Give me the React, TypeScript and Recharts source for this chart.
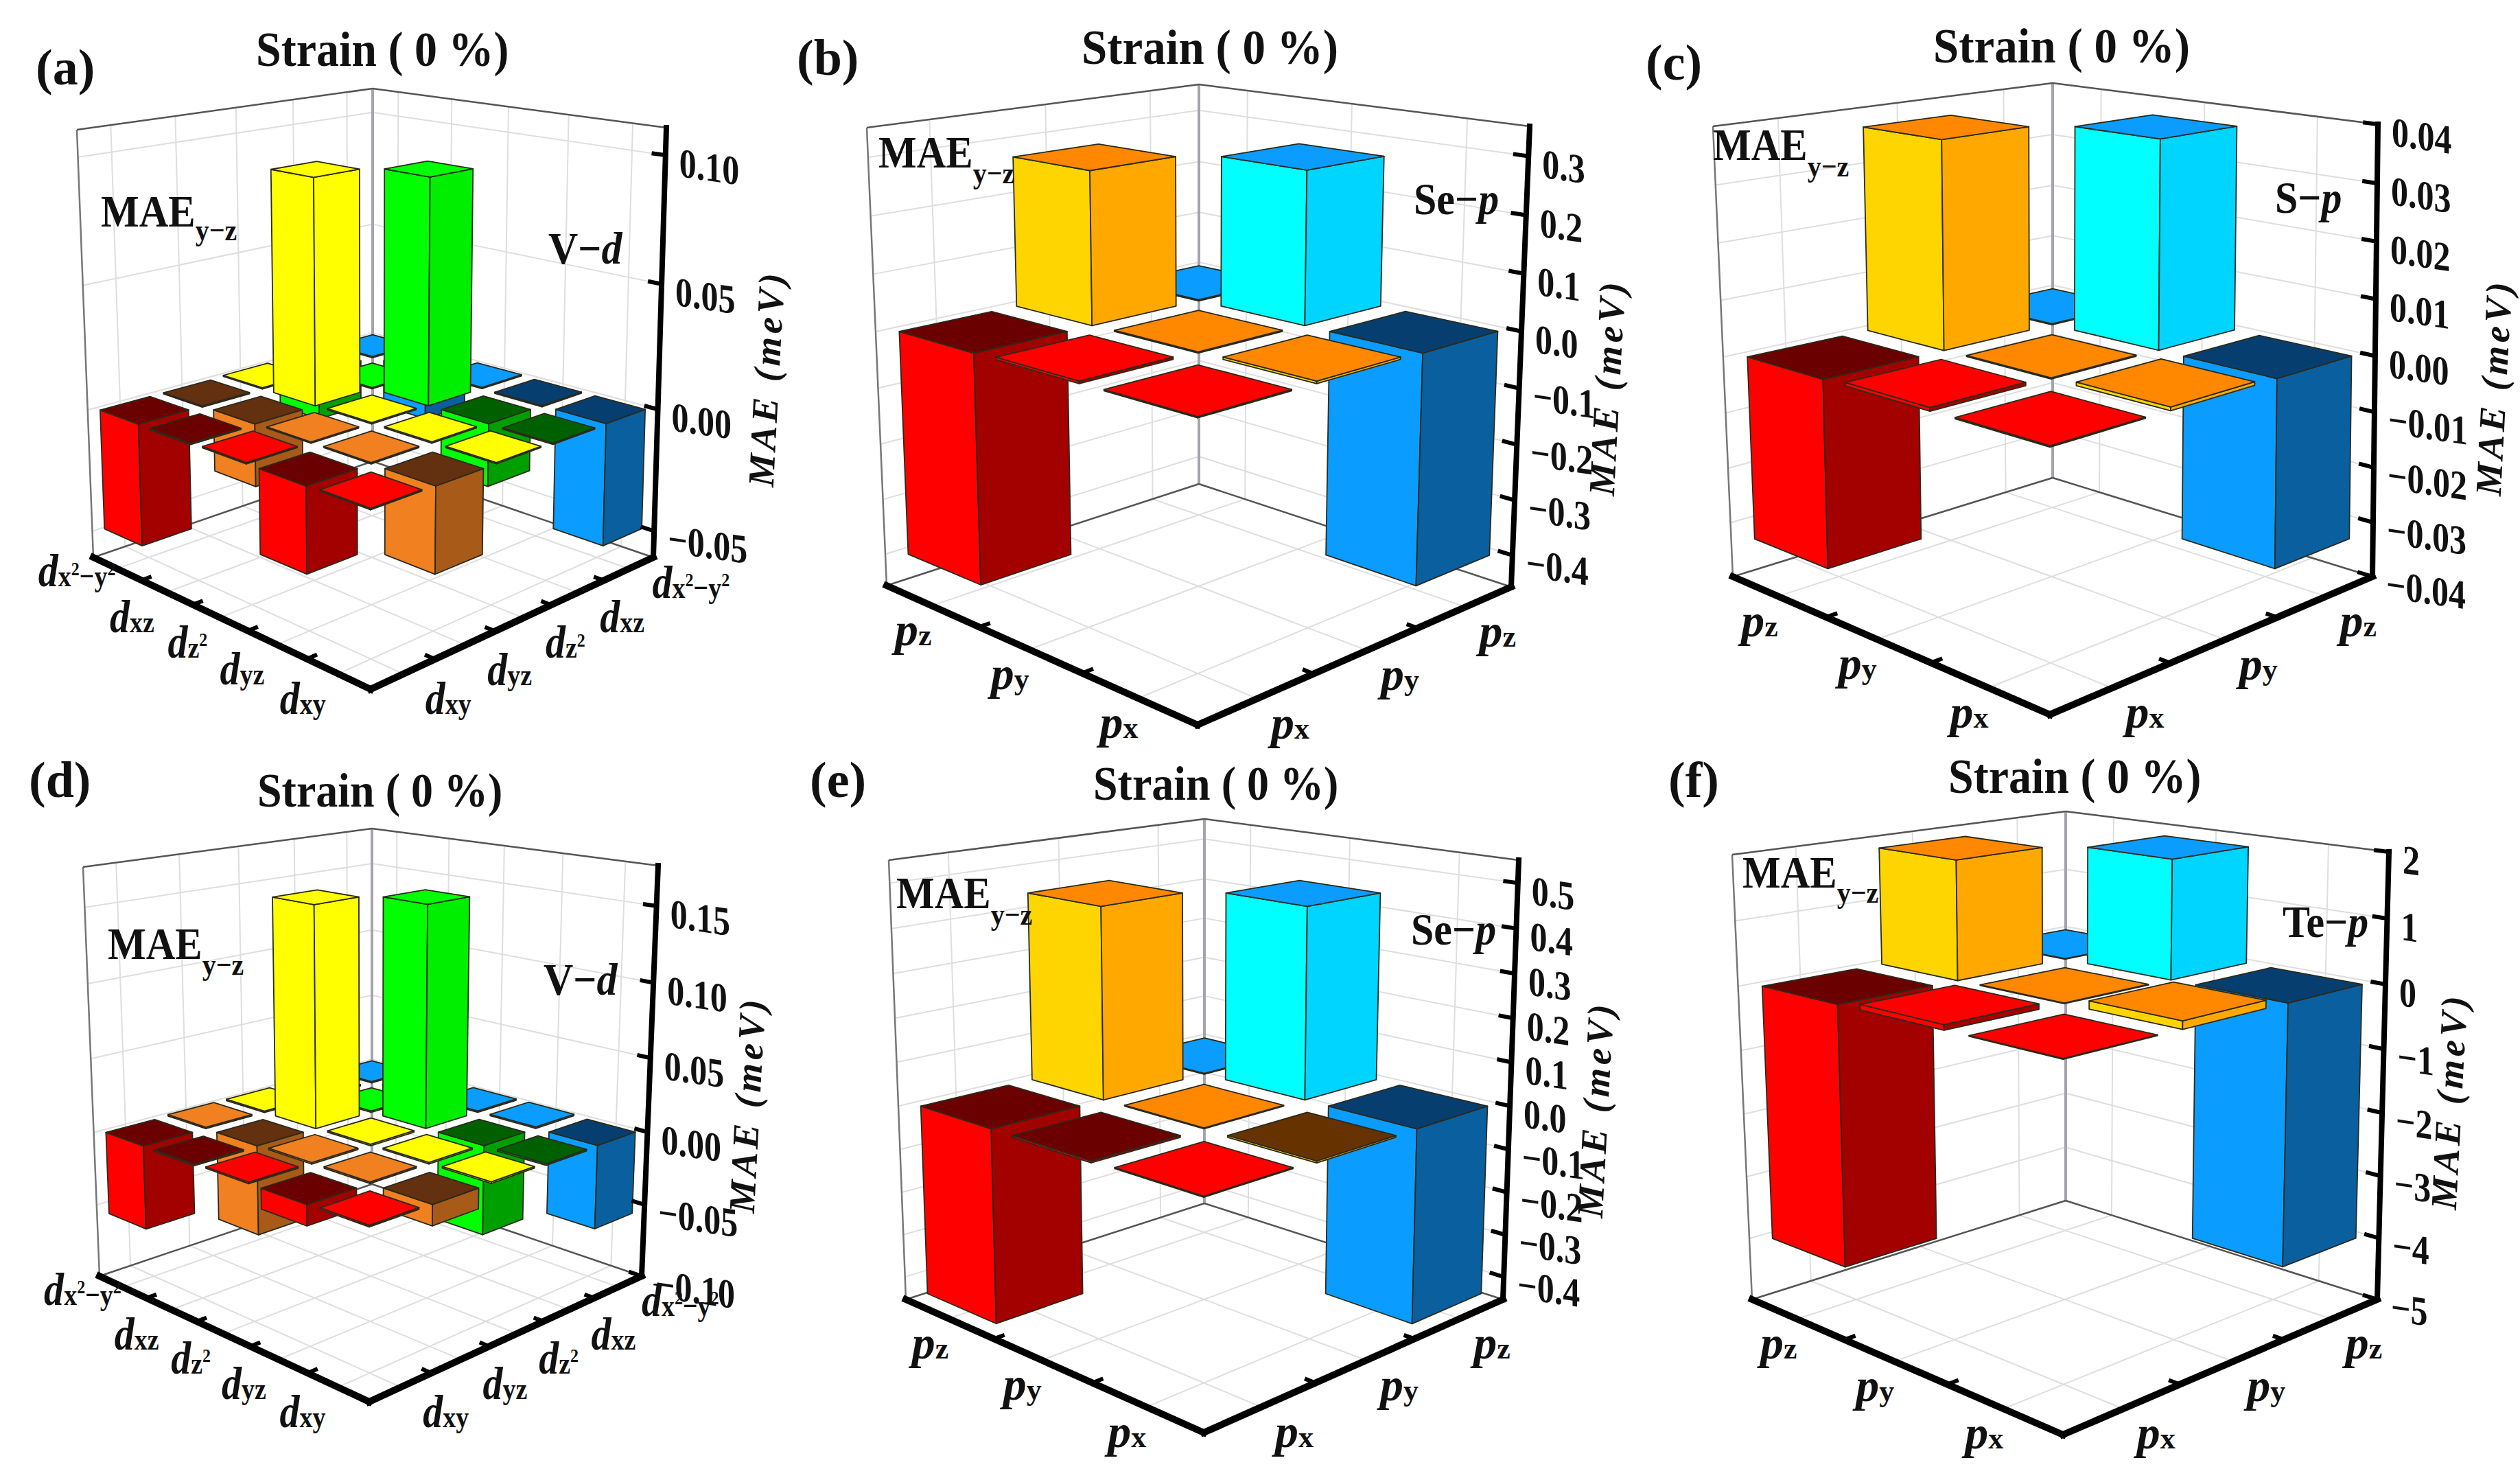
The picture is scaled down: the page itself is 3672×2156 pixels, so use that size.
import { ReactNode } from 'react';
import { ScatterChart, Scatter, XAxis, YAxis } from 'recharts';

// orbital names, "^2" marks a raised 2 inside the subscript
const dOrbitals = ['x^2−y^2', 'xz', 'z^2', 'yz', 'xy'];
const pOrbitals = ['z', 'y', 'x'];

// MAE per orbital pair, row = right axis side, column = left axis side
const aValues = [
  [0.0005, -0.02, 0.0005, -0.0005, -0.049],
  [-0.02, 0.0005, 0.091, -0.025, -0.0005],
  [0.0005, 0.091, 0.0005, 0.0005, 0.0005],
  [-0.0005, -0.025, 0.0005, 0.0005, -0.032],
  [-0.049, -0.0005, 0.0005, -0.032, 0.0005],
];
const dValues = [
  [0.001, 0.001, 0.001, 0.001, -0.056],
  [0.001, 0.001, 0.15, -0.06, -0.001],
  [0.001, 0.15, 0.001, 0.001, 0.001],
  [0.001, -0.06, 0.001, 0.001, -0.013],
  [-0.056, -0.001, 0.001, -0.013, 0.001],
];
const bValues = [
  [0.002, 0.27, -0.4],
  [0.27, 0.002, 0.004],
  [-0.4, 0.004, 0.002],
];
const cValues = [
  [0.0002, 0.037, -0.033],
  [0.037, 0.0002, 0.0006],
  [-0.033, 0.0006, 0.0002],
];
const eValues = [
  [0.002, 0.44, -0.44],
  [0.44, 0.002, -0.004],
  [-0.44, -0.004, 0.002],
];
const fValues = [
  [0.01, 1.85, -4.0],
  [1.85, 0.01, 0.08],
  [-4.0, 0.12, 0.01],
];

const aTicks = [0.1, 0.05, 0, -0.05];
const bTicks = [0.3, 0.2, 0.1, 0, -0.1, -0.2, -0.3, -0.4];
const cTicks = [0.04, 0.03, 0.02, 0.01, 0, -0.01, -0.02, -0.03, -0.04];
const dTicks = [0.15, 0.1, 0.05, 0, -0.05, -0.1];
const eTicks = [0.5, 0.4, 0.3, 0.2, 0.1, 0, -0.1, -0.2, -0.3, -0.4];
const fTicks = [2, 1, 0, -1, -2, -3, -4, -5];

// face colours: [left, right, top]
const RED = { pos: ['#ff0000', '#a30000', '#ff0000'], neg: ['#ff0000', '#a30000', '#6b0000'] };
const ORANGE = { pos: ['#f08020', '#a85a18', '#f08020'], neg: ['#f08020', '#a85a18', '#633010'] };
const YELLOW = { pos: ['#ffff00', '#ffff00', '#ffff00'], neg: ['#ffff00', '#ffff00', '#ffff00'] };
const GREEN = { pos: ['#00ff00', '#00ee00', '#00ff00'], neg: ['#00ff00', '#009f00', '#006000'] };
const BLUE = { pos: ['#0a9dff', '#0a7fd0', '#0a9dff'], neg: ['#0a9dff', '#0a5f9f', '#063f6f'] };
const GOLD = { pos: ['#ffd500', '#ffa900', '#ff8800'], neg: ['#ffd500', '#ffa900', '#663300'] };
const CYAN = { pos: ['#00ffff', '#00d5ff', '#0a9dff'], neg: ['#0a9dff', '#0a5f9f', '#063f6f'] };

const D_FAMILIES = [BLUE, GREEN, YELLOW, ORANGE, RED];
const P_FAMILIES = [CYAN, GOLD, RED];

const FONT = 'Liberation Serif';
const BAR_FILL = 0.78;
const Z_PERSPECTIVE = 1.05;
const GRID = '#dedede';

type Pt = { x: number; y: number };

const pt = (x: number, y: number): Pt => ({ x, y });

const panels = [
  {
    frame: [0, 0, 1190, 1120], letter: '(a)', letterAt: pt(52, 123), titleAt: pt(373, 96), titleSize: 66, maeAt: pt(147, 330), subDrop: 18,
    site: ['V−', 'd'], siteAt: pt(799, 384), yTitleAt: pt(1118, 552),
    box: { backTop: pt(543, 129), leftTop: pt(112, 189), rightTop: pt(971, 186), back: pt(543, 672), left: pt(136, 812), front: pt(540, 1004), right: pt(952, 812) },
    zRange: [-0.061, 0.1105], ticks: aTicks, decimals: 2, values: aValues, families: D_FAMILIES, base: 'd', orbitals: dOrbitals,
  },
  {
    frame: [1130, 0, 2400, 1120], letter: '(b)', letterAt: pt(1161, 109), titleAt: pt(1576, 93), titleSize: 67, maeAt: pt(1280, 244), subDrop: 21,
    site: ['Se−', 'p'], siteAt: pt(2060, 312), yTitleAt: pt(2343, 565),
    box: { backTop: pt(1747, 123), leftTop: pt(1263, 186), rightTop: pt(2229, 184), back: pt(1747, 705), left: pt(1292, 853), front: pt(1745, 1056), right: pt(2202, 855) },
    zRange: [-0.458, 0.35], ticks: bTicks, decimals: 1, values: bValues, families: P_FAMILIES, base: 'p', orbitals: pOrbitals,
  },
  {
    frame: [2370, 0, 3672, 1120], letter: '(c)', letterAt: pt(2398, 116), titleAt: pt(2817, 91), titleSize: 67, maeAt: pt(2496, 233), subDrop: 22,
    site: ['S−', 'p'], siteAt: pt(3315, 310), yTitleAt: pt(3635, 565),
    box: { backTop: pt(2991, 121), leftTop: pt(2496, 184), rightTop: pt(3465, 181), back: pt(2991, 696), left: pt(2525, 840), front: pt(2987, 1041), right: pt(3457, 840) },
    zRange: [-0.04, 0.04], ticks: cTicks, decimals: 2, values: cValues, families: P_FAMILIES, base: 'p', orbitals: pOrbitals,
  },
  {
    frame: [0, 1085, 1190, 2156], letter: '(d)', letterAt: pt(42, 1161), titleAt: pt(375, 1175), titleSize: 64, maeAt: pt(157, 1397), subDrop: 21,
    site: ['V−', 'd'], siteAt: pt(792, 1449), yTitleAt: pt(1090, 1610),
    box: { backTop: pt(542, 1207), leftTop: pt(121, 1263), rightTop: pt(959, 1261), back: pt(542, 1725), left: pt(145, 1859), front: pt(538, 2042), right: pt(935, 1859) },
    zRange: [-0.1, 0.176], ticks: dTicks, decimals: 2, values: dValues, families: D_FAMILIES, base: 'd', orbitals: dOrbitals,
  },
  {
    frame: [1130, 1085, 2400, 2156], letter: '(e)', letterAt: pt(1180, 1161), titleAt: pt(1593, 1165), titleSize: 64, maeAt: pt(1306, 1323), subDrop: 22,
    site: ['Se−', 'p'], siteAt: pt(2056, 1376), yTitleAt: pt(2326, 1617),
    box: { backTop: pt(1755, 1193), leftTop: pt(1295, 1253), rightTop: pt(2213, 1253), back: pt(1755, 1753), left: pt(1320, 1893), front: pt(1754, 2087), right: pt(2190, 1893) },
    zRange: [-0.454, 0.55], ticks: eTicks, decimals: 1, values: eValues, families: P_FAMILIES, base: 'p', orbitals: pOrbitals,
  },
  {
    frame: [2370, 1085, 3672, 2156], letter: '(f)', letterAt: pt(2431, 1161), titleAt: pt(2839, 1155), titleSize: 66, maeAt: pt(2539, 1293), subDrop: 20,
    site: ['Te−', 'p'], siteAt: pt(3326, 1365), yTitleAt: pt(3570, 1605),
    box: { backTop: pt(3010, 1182), leftTop: pt(2524, 1245), rightTop: pt(3481, 1241), back: pt(3010, 1749), left: pt(2553, 1893), front: pt(3006, 2090), right: pt(3464, 1893) },
    zRange: [-5, 2], ticks: fTicks, decimals: 0, values: fValues, families: P_FAMILIES, base: 'p', orbitals: pOrbitals,
  },
];

// square to quad: (0,0)=p0 (1,0)=p1 (1,1)=p2 (0,1)=p3
const homography = (p0: Pt, p1: Pt, p2: Pt, p3: Pt) => {
  const dx1 = p1.x - p2.x;
  const dx2 = p3.x - p2.x;
  const dx3 = p0.x - p1.x + p2.x - p3.x;
  const dy1 = p1.y - p2.y;
  const dy2 = p3.y - p2.y;
  const dy3 = p0.y - p1.y + p2.y - p3.y;
  const den = dx1 * dy2 - dx2 * dy1;
  const g = (dx3 * dy2 - dx2 * dy3) / den;
  const h = (dx1 * dy3 - dx3 * dy1) / den;
  return (u: number, v: number): Pt => {
    const w = g * u + h * v + 1;
    return {
      x: ((p1.x - p0.x + g * p1.x) * u + (p3.x - p0.x + h * p3.x) * v + p0.x) / w,
      y: ((p1.y - p0.y + g * p1.y) * u + (p3.y - p0.y + h * p3.y) * v + p0.y) / w,
    };
  };
};

const formatTick = (v: number, decimals: number) => v.toFixed(decimals).replace('-', '−');

const orbitalLabel = (base: string, sub: string, anchor: string) => {
  const isD = base === 'd';
  return (
    <text
      transform={isD ? 'scale(1,1.18)' : undefined}
      textAnchor={anchor}
      fontFamily={FONT}
      fontWeight="bold"
      fontStyle="italic"
      fontSize={isD ? 58 : 68}
      fill="#111"
    >
      {base}
      <tspan fontSize={isD ? 38 : 44} dy={isD ? 14 : 18} fontStyle="normal">
        {sub.split(/(\^2)/).filter(Boolean).map((part, i) =>
          part === '^2' ? (
            <tspan key={i} fontSize={24} dy={-14}>2</tspan>
          ) : (
            <tspan key={i} dy={i > 0 ? 14 : 0}>{part}</tspan>
          ),
        )}
      </tspan>
    </text>
  );
};

const noMark = () => <g />;
const drawContent = (props: any) => (
  <g transform={`translate(${props.cx},${props.cy})`}>{props.payload.content}</g>
);

const Panel = ({ cfg }: { cfg: (typeof panels)[number] }) => {
  const { box, zRange, ticks, values, families, orbitals, base, decimals, frame } = cfg;
  const [x0, y0, x1, y1] = frame;
  const n = orbitals.length;

  const midY = (box.leftTop.y + box.rightTop.y) / 2;
  const topFront = pt(box.front.x, midY + (midY - box.backTop.y) / 0.72);
  const floorAt = homography(box.back, box.right, box.front, box.left);
  const topAt = homography(box.backTop, box.rightTop, topFront, box.leftTop);

  const project = (a: number, b: number, z: number) => {
    const s = (z - zRange[0]) / (zRange[1] - zRange[0]);
    const t = s / (s + (1 - s) * Z_PERSPECTIVE);
    const f = floorAt(a, b);
    const u = topAt(a, b);
    return { sx: f.x + t * (u.x - f.x), sy: f.y + t * (u.y - f.y) };
  };

  const [zLo, zHi] = zRange;
  const lines: { key: string; data: any[]; stroke: string; width: number; cap?: string }[] = [];
  const addLine = (key: string, data: any[], stroke: string, width: number, cap = 'butt') =>
    lines.push({ key, data, stroke, width, cap });

  // wall and floor grid, centred on the categories
  for (let i = 0; i < n; i++) {
    const c = (i + 0.5) / n;
    addLine(`wl${i}`, [project(0, c, zLo), project(0, c, zHi)], GRID, 2);
    addLine(`wr${i}`, [project(c, 0, zLo), project(c, 0, zHi)], GRID, 2);
    addLine(`fa${i}`, [project(c, 0, zLo), project(c, 1, zLo)], GRID, 2);
    addLine(`fb${i}`, [project(0, c, zLo), project(1, c, zLo)], GRID, 2);
  }
  ticks.forEach((v, i) => {
    addLine(`hl${i}`, [project(0, 0, v), project(0, 1, v)], GRID, 2);
    addLine(`hr${i}`, [project(0, 0, v), project(1, 0, v)], GRID, 2);
  });
  // box edges
  addLine('backEdge', [project(0, 0, zLo), project(0, 0, zHi)], '#a4a4ac', 4);
  addLine('leftEdge', [project(0, 1, zLo), project(0, 1, zHi)], '#777', 2.5);
  addLine('topLeft', [project(0, 1, zHi), project(0, 0, zHi)], '#555', 2.5);
  addLine('topRight', [project(0, 0, zHi), project(1, 0, zHi)], '#555', 2.5);
  addLine('floorLeft', [project(0, 1, zLo), project(0, 0, zLo)], '#555', 2.5);
  addLine('floorRight', [project(0, 0, zLo), project(1, 0, zLo)], '#555', 2.5);

  // bars back to front
  const half = BAR_FILL / n / 2;
  const cells: { i: number; j: number }[] = [];
  for (let i = 0; i < n; i++) for (let j = 0; j < n; j++) cells.push({ i, j });
  cells.sort((p, q) => p.i + p.j - (q.i + q.j));

  const faces: { key: string; data: any[]; fill: string }[] = [];
  cells.forEach(({ i, j }) => {
    const v = values[i][j];
    const colors = v >= 0 ? families[j].pos : families[j].neg;
    const a0 = (i + 0.5) / n - half;
    const a1 = (i + 0.5) / n + half;
    const b0 = (j + 0.5) / n - half;
    const b1 = (j + 0.5) / n + half;
    const hi = Math.max(0, v);
    const lo = Math.min(0, v);
    faces.push({
      key: `l${i}-${j}`,
      fill: colors[0],
      data: [project(a0, b1, hi), project(a1, b1, hi), project(a1, b1, lo), project(a0, b1, lo)],
    });
    faces.push({
      key: `r${i}-${j}`,
      fill: colors[1],
      data: [project(a1, b1, hi), project(a1, b0, hi), project(a1, b0, lo), project(a1, b1, lo)],
    });
    faces.push({
      key: `t${i}-${j}`,
      fill: colors[2],
      data: [project(a0, b0, hi), project(a1, b0, hi), project(a1, b1, hi), project(a0, b1, hi)],
    });
  });

  // heavy axes and their ticks
  const axes: typeof lines = [];
  const addAxis = (key: string, data: any[], width: number) =>
    axes.push({ key, data, stroke: '#000', width, cap: 'square' });
  addAxis('axisLeft', [project(0, 1, zLo), project(1, 1, zLo)], 10);
  addAxis('axisRight', [project(1, 0, zLo), project(1, 1, zLo)], 10);
  addAxis('axisZ', [project(1, 0, zLo), project(1, 0, zHi)], 8);
  for (let k = 1; k < n; k++) {
    addAxis(`nl${k}`, [project(k / n, 1, zLo), project(k / n, 0.975, zLo)], 6);
    addAxis(`nr${k}`, [project(1, k / n, zLo), project(0.975, k / n, zLo)], 6);
  }
  ticks.forEach((v, i) => {
    addAxis(`tz${i}`, [project(1, 0, v), project(0.965, 0, v)], 6);
  });

  // all text goes through the same scales as the marks
  const notes: any[] = [];
  const note = (sx: number, sy: number, content: ReactNode) => notes.push({ sx, sy, content });

  ticks.forEach((v) => {
    const p = project(1, 0, v);
    note(p.sx + 20, p.sy + 31, (
      <text transform="skewY(8) scale(1,1.2)" fontFamily={FONT} fontWeight="bold" fontSize={50} fill="#111">
        {formatTick(v, decimals)}
      </text>
    ));
  });

  orbitals.forEach((name, k) => {
    const c = (k + 0.5) / n;
    const long = name.length > 4;
    const left = project(c, 1, zLo);
    const right = project(1, c, zLo);
    note(left.sx + (long ? -2 : base === 'd' ? -18 : 0), left.sy + (long ? 26 : 58), orbitalLabel(base, name, 'end'));
    note(right.sx + (long ? 34 : base === 'd' ? 32 : 20), right.sy + (long ? 42 : 58), orbitalLabel(base, name, 'start'));
  });

  note(cfg.letterAt.x, cfg.letterAt.y, (
    <text fontFamily={FONT} fontWeight="bold" fontSize={74} fill="#111">{cfg.letter}</text>
  ));
  note(cfg.titleAt.x, cfg.titleAt.y, (
    <text transform="scale(1,1.08)" fontFamily={FONT} fontWeight="bold" fontSize={cfg.titleSize} fill="#111">Strain ( 0 %)</text>
  ));
  note(cfg.maeAt.x, cfg.maeAt.y, (
    <text transform="scale(1,1.1)" fontFamily={FONT} fontWeight="bold" fontSize={59} fill="#111">
      MAE<tspan fontSize={40} dy={cfg.subDrop}>y−z</tspan>
    </text>
  ));
  note(cfg.siteAt.x, cfg.siteAt.y, (
    <text transform="scale(1,1.1)" fontFamily={FONT} fontWeight="bold" fontSize={60} fill="#111">
      {cfg.site[0]}<tspan fontStyle="italic">{cfg.site[1]}</tspan>
    </text>
  ));
  note(cfg.yTitleAt.x + 17, cfg.yTitleAt.y, (
    <text transform="rotate(-87)" textAnchor="middle" fontFamily={FONT} fontWeight="bold" fontStyle="italic" fontSize={54} letterSpacing={5} fill="#111">
      MAE (meV)
    </text>
  ));

  return (
    <div style={{ position: 'absolute', left: x0, top: y0 }}>
      <ScatterChart width={x1 - x0} height={y1 - y0} margin={{ top: 0, right: 0, bottom: 0, left: 0 }}>
        <XAxis type="number" dataKey="sx" domain={[x0, x1]} hide />
        <YAxis type="number" dataKey="sy" domain={[y0, y1]} reversed hide />
        {lines.map((l) => (
          <Scatter
            key={l.key}
            data={l.data}
            line={{ stroke: l.stroke, strokeWidth: l.width, strokeLinecap: l.cap }}
            shape={noMark}
            isAnimationActive={false}
          />
        ))}
        {faces.map((f) => (
          <Scatter
            key={f.key}
            data={f.data}
            line={{ fill: f.fill, stroke: '#2a2a1c', strokeWidth: 1.8, strokeLinejoin: 'round' }}
            lineJointType="linearClosed"
            shape={noMark}
            isAnimationActive={false}
          />
        ))}
        {axes.map((l) => (
          <Scatter
            key={l.key}
            data={l.data}
            line={{ stroke: l.stroke, strokeWidth: l.width, strokeLinecap: l.cap }}
            shape={noMark}
            isAnimationActive={false}
          />
        ))}
        <Scatter data={notes} shape={drawContent} isAnimationActive={false} />
      </ScatterChart>
    </div>
  );
};

export default function App() {
  return (
    <div style={{ position: 'absolute', left: 0, top: 0, width: 3672, height: 2156, background: '#fff', overflow: 'hidden' }}>
      {panels.map((cfg) => (
        <Panel key={cfg.letter} cfg={cfg} />
      ))}
    </div>
  );
}
